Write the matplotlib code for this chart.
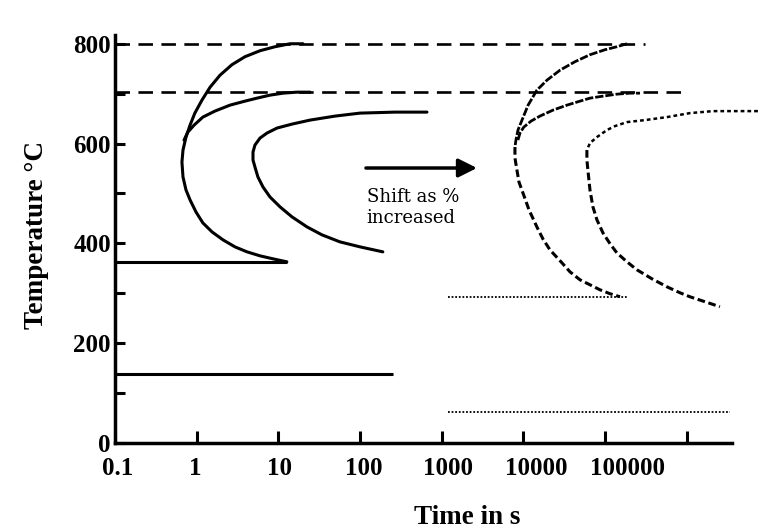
import numpy as np
import matplotlib.pyplot as plt
from matplotlib.ticker import NullLocator
from matplotlib.transforms import ScaledTranslation

plt.rcParams['font.family'] = ['Liberation Serif', 'DejaVu Serif']
plt.rcParams['font.weight'] = 'bold'

# plain steel: start / pearlite finish / end curves (time in s, temperature in °C)
start_t = [20.0, 13.9, 9.08, 5.96, 3.90, 2.70, 1.93, 1.46, 1.16, 0.95, 0.83, 0.74, 0.68,
           0.66, 0.68, 0.74, 0.83, 0.98, 1.19, 1.54, 2.10, 2.94, 4.13, 5.96, 8.59, 12.7]
start_T = [800, 800, 794, 786, 774, 758, 737, 713, 687, 661, 637, 613, 587,
           563, 533, 507, 487, 463, 441, 423, 407, 393, 383, 375, 369, 363]
branch_t = [0.70, 0.78, 0.93, 1.19, 1.67, 2.56, 3.90, 5.47, 7.89, 11.4, 16.9, 24.4]
branch_T = [607, 623, 637, 653, 665, 677, 685, 691, 697, 701, 703, 703]
finish_t = [659, 267, 99.7, 49.3, 24.4, 14.7, 9.6, 7.25, 5.96, 5.17, 4.89, 4.89,
            5.17, 5.62, 6.48, 7.89, 10.5, 14.7, 22.4, 34.2, 56.7, 99.7, 190]
finish_T = [663, 663, 661, 655, 647, 639, 631, 621, 611, 597, 583, 567,
            553, 533, 513, 493, 473, 453, 433, 417, 403, 393, 383]

# alloyed steel: same curves moved to longer times
alloy_start_t = [1.85e5, 1.39e5, 9.95e4, 6.52e4, 4.27e4, 2.80e4, 1.94e4, 1.46e4, 1.14e4,
                 9600, 8570, 8090, 7870, 7870, 8320, 8810, 9860, 1.17e4, 1.46e4,
                 1.73e4, 2.11e4, 2.96e4, 3.71e4, 4.92e4, 6.52e4, 8.63e4, 1.15e5, 1.52e5]
alloy_start_T = [800, 794, 788, 778, 764, 747, 727, 707, 677,
                 647, 627, 607, 593, 571, 547, 523, 501, 467, 433,
                 409, 387, 361, 343, 327, 317, 307, 299, 293]
alloy_branch_t = [8570, 9060, 1.01e4, 1.24e4, 1.59e4, 2.30e4, 3.41e4, 4.92e4,
                  6.52e4, 9.40e4, 1.39e5, 2.01e5, 2.67e5]
alloy_branch_T = [607, 621, 633, 645, 655, 667, 677, 685, 691, 695, 699, 701, 701]
alloy_finish_t = [7.41e6, 3.88e6, 2.08e6, 1.09e6, 5.70e5, 3.07e5, 1.85e5, 1.32e5, 1.05e5,
                  7.94e4, 6.52e4, 5.98e4, 5.98e4, 6.15e4, 6.52e4, 7.09e4, 7.94e4, 9.40e4,
                  1.15e5, 1.39e5, 1.85e5, 2.45e5, 3.74e5, 5.70e5, 8.24e5, 1.09e6, 1.67e6, 2.54e6]
alloy_finish_T = [665, 665, 665, 661, 653, 647, 643, 635, 627,
                  613, 601, 587, 567, 547, 507, 473, 447, 421,
                  399, 381, 363, 347, 329, 313, 301, 293, 283, 273]

# critical temperatures (dashed) and Ms / Mf lines
crit_T = [800, 703]
crit_end = [3.07e5, 1.0e6]
ms_T, mf_T = 363, 138
ms_end, mf_end = 12.7, 253
alloy_ms_T, alloy_mf_T = 293, 62
alloy_from = 1190
alloy_ms_end, alloy_mf_end = 1.85e5, 3.37e6

xticks = [0.1, 1, 10, 100, 1000, 10000, 100000, 1e6]
xticklabels = ['0.1', '1', '10', '100', '1000', '10000', '100000', '']
yticks = [0, 200, 400, 600, 800]

fig = plt.figure(figsize=(7.6, 5.3), dpi=100)
ax = fig.add_axes([0.1513, 0.1642, 0.855, 0.7815])
ax.set_xscale('log')
ax.set_xlim(0.1, 9.0e6)
ax.set_ylim(0, 830)

lw = 2.2
ax.hlines(crit_T, 0.1, crit_end, colors='k', lw=1.9, linestyles=[(0, (5.5, 3.2))])
ax.plot(start_t, start_T, 'k-', lw=lw, solid_capstyle='round', solid_joinstyle='round')
ax.plot(branch_t, branch_T, 'k-', lw=lw, solid_capstyle='round', solid_joinstyle='round')
ax.plot(finish_t, finish_T, 'k-', lw=lw, solid_capstyle='round', solid_joinstyle='round')
ax.hlines([ms_T, mf_T], 0.1, [ms_end, mf_end], colors='k', lw=lw)

# alloyed curves, rough dotted traces
nose = 12
ax.plot(alloy_start_t[:nose + 1], alloy_start_T[:nose + 1], 'k', lw=2.0, ls=(0, (3, 0.7)))
ax.plot(alloy_start_t[nose:], alloy_start_T[nose:], 'k', lw=2.2, ls=(0, (2.5, 1.2)))
ax.plot(alloy_branch_t, alloy_branch_T, 'k', lw=2.0, ls=(0, (3, 0.7)))
ax.plot(alloy_finish_t[:12], alloy_finish_T[:12], 'k', lw=1.8, ls=(0, (1.5, 1.2)))
ax.plot(alloy_finish_t[11:], alloy_finish_T[11:], 'k', lw=2.2, ls=(0, (2.5, 1.2)))
ax.hlines([alloy_ms_T, alloy_mf_T], alloy_from, [alloy_ms_end, alloy_mf_end],
          colors='k', lw=1.3, linestyles=[(0, (1, 1))])

ax.annotate('', xy=(2700, 551), xytext=(118, 551),
            arrowprops=dict(arrowstyle='-|>', lw=2.5, color='k',
                            mutation_scale=28, shrinkA=0, shrinkB=0))
ax.text(121, 511, 'Shift as %\nincreased', ha='left', va='top', fontsize=13,
        family='DejaVu Serif', fontweight='normal', linespacing=1.25)

for side in ['top', 'right']:
    ax.spines[side].set_visible(False)
ax.spines['left'].set_bounds(0, 818)
ax.spines['bottom'].set_bounds(0.1, 3.56e6)
for side in ['left', 'bottom']:
    ax.spines[side].set_linewidth(2.5)

ax.set_xticks(xticks)
ax.set_xticklabels(xticklabels)
ax.xaxis.set_minor_locator(NullLocator())
ax.set_yticks(yticks)
ax.set_yticks([100, 300, 500, 700], minor=True)
ax.tick_params(axis='x', direction='in', length=9, width=2.2, pad=10, labelsize=18)
ax.tick_params(axis='y', which='both', direction='in', length=7, width=2.2, pad=3, labelsize=18)

# nudge the long time labels to the right
shifts = [3, -1, 1, 4, 6, 13, 22, 0]
for lab, dx in zip(ax.get_xticklabels(), shifts):
    lab.set_transform(lab.get_transform() + ScaledTranslation(dx / 100, 0, fig.dpi_scale_trans))

fig.text(37 / 760, 1 - 235 / 530, 'Temperature °C', rotation=90, ha='center', va='center',
         fontsize=19.5, fontweight='bold')
fig.text(467 / 760, 1 - 517 / 530, 'Time in s', ha='center', va='center',
         fontsize=19.5, fontweight='bold')

fig.savefig('out.png', dpi=100)
